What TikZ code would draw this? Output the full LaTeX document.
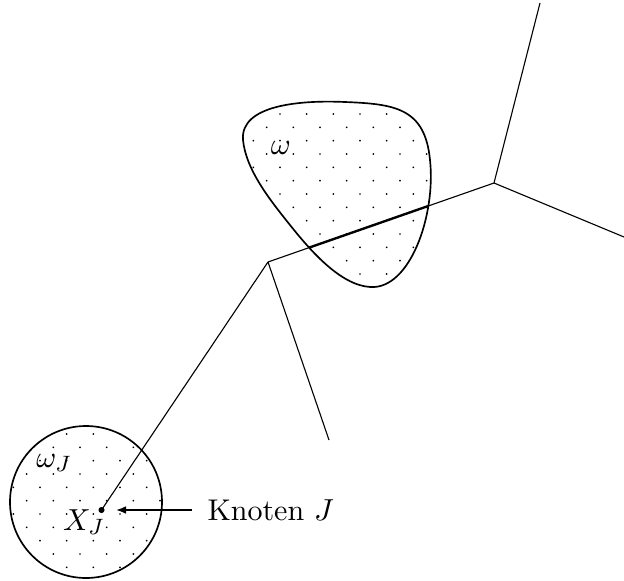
\documentclass[tikz,border=0pt]{standalone}
\usetikzlibrary{arrows.meta,calc,intersections}
\begin{document}
\begin{tikzpicture}[x=0.36pt,y=-0.36pt,
  edge/.style={line width=0.4pt},
  region/.style={line width=0.6pt},
  dotpt/.style={fill=black},
  lbl/.style={font=\fontsize{10.8}{13}\selectfont}]
\useasboundingbox (0,0) rectangle (624,580);
\coordinate (A) at (268,262);
\coordinate (B) at (494,183);
\coordinate (C) at (329,440);
\coordinate (D) at (540,3);
\coordinate (E) at (624,237);
\coordinate (XJ) at (101.5,510);
\coordinate (tip) at (116,510);
\def\blob{(243,140) .. controls (240,105) and (300,100) .. (345,102)
  .. controls (395,104) and (425,108) .. (430,160)
  .. controls (436,215) and (410,290) .. (370,287)
  .. controls (340,285) and (310,250) .. (290,225)
  .. controls (270,200) and (246,170) .. (243,140) -- cycle}
% dots in blob
\begin{scope}
\clip \blob;
\foreach \i in {-1,...,7} \foreach \j in {-1,...,8} {
  \fill[dotpt] (280+26.667*\i,114+26.667*\j) circle (0.35pt);
  \fill[dotpt] (266.667+26.667*\i,127.333+26.667*\j) circle (0.35pt);
}
\end{scope}
% dots in circle
\begin{scope}
\clip (86,502) circle (27.36pt);
\foreach \i in {-10,...,0} \foreach \j in {10,...,18} {
  \fill[dotpt] (280+26.667*\i,114+26.667*\j) circle (0.35pt);
  \fill[dotpt] (266.667+26.667*\i,127.333+26.667*\j) circle (0.35pt);
}
\end{scope}
\draw[region,name path=blobp] \blob;
\draw[region] (86,502) circle (27.36pt);
% edges
\draw[edge] (XJ) -- (A);
\draw[edge,name path=abp] (A) -- (B);
\draw[edge] (B) -- (D);
\draw[edge] (A) -- (C);
\draw[edge] (B) -- (E);
\draw[line width=0.85pt,name intersections={of=blobp and abp}] (intersection-1) -- (intersection-2);
\fill (XJ) circle (1.1pt);
\node[lbl] (om) at (281,148) {$\omega$};
\node[lbl] (omJ) at (54,463) {$\omega_J$};
\node[lbl] (XJl) at (84,522) {$X_J$};
\node[lbl,anchor=west,inner xsep=5.4pt,inner ysep=0pt] (K) at (192,510) {Knoten $J$};
\draw[line width=0.6pt,-{Latex[length=3.6pt,width=2.8pt]}] (K.west) -- (tip);
\end{tikzpicture}
\end{document}
